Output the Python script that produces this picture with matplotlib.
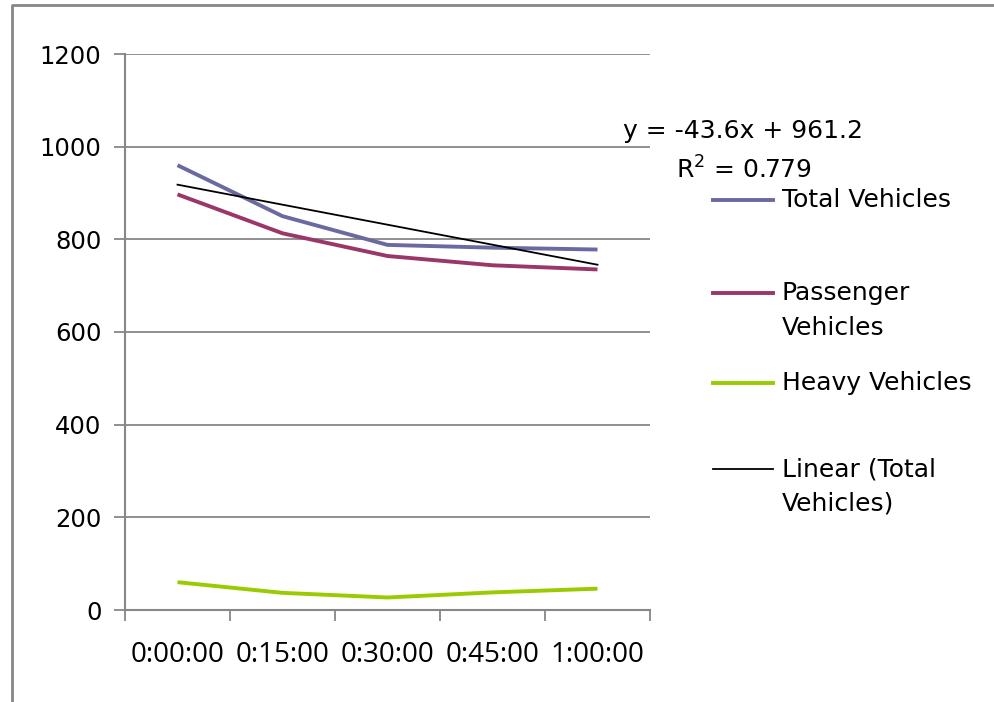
import numpy as np
import matplotlib
matplotlib.use("Agg")
import matplotlib.pyplot as plt
from matplotlib.lines import Line2D

# data
times = ["0:00:00", "0:15:00", "0:30:00", "0:45:00", "1:00:00"]
total = [960, 850, 788, 782, 778]
passenger = [897, 813, 764, 744, 735]
heavy = [60, 37, 27, 38, 46]

eq_text = "y = -43.6x + 961.2"
r2_text = "R$^2$ = 0.779"

c_total = "#6a6aa0"
c_pass = "#9b3768"
c_heavy = "#99cc00"
grid_c = "#878787"

plt.rcParams["font.family"] = ["DejaVu Sans"]
plt.rcParams["mathtext.default"] = "regular"

fig = plt.figure(figsize=(9.95, 7.02), dpi=100)
ax = fig.add_axes([125 / 995, 1 - 610 / 702, 525 / 995, 556 / 702])

x = np.arange(1, len(times) + 1)
l1, = ax.plot(x, total, color=c_total, lw=2.8, solid_capstyle="butt")
l2, = ax.plot(x, passenger, color=c_pass, lw=2.8, solid_capstyle="butt")
l3, = ax.plot(x, heavy, color=c_heavy, lw=2.8, solid_capstyle="butt")

# linear trend of total
k, b = np.polyfit(x, total, 1)
l4, = ax.plot(x, k * x + b, color="black", lw=1.3)

ax.set_xlim(0.5, len(times) + 0.5)
ax.set_ylim(0, 1200)
ax.set_yticks(range(0, 1201, 200))
ax.set_yticklabels([str(v) for v in range(0, 1201, 200)], fontsize=17.5)
ax.set_xticks(np.arange(0.5, len(times) + 1, 1))
ax.set_xticklabels([])
ax.set_xticks(x, minor=True)
ax.set_xticklabels(times, minor=True, fontsize=20, family="Open Sans")
ax.tick_params(axis="x", which="minor", length=0, pad=22)
ax.tick_params(axis="x", which="major", length=8, width=1.3, color=grid_c)
ax.tick_params(axis="y", length=8, width=1.3, color=grid_c, pad=9)

ax.grid(axis="y", color=grid_c, lw=1.3)
ax.set_axisbelow(True)
for s in ["top", "right"]:
    ax.spines[s].set_visible(False)
for s in ["left", "bottom"]:
    ax.spines[s].set_color(grid_c)
    ax.spines[s].set_linewidth(1.5)

# trendline label
fig.text(623 / 995, 1 - 131 / 702, eq_text, fontsize=18, va="center")
fig.text(676 / 995, 1 - 170 / 702, r2_text, fontsize=18, va="center")

# legend drawn by hand, handle aligned with first text line
entries = [(l1, ["Total Vehicles"], 200), (l2, ["Passenger", "Vehicles"], 293),
           (l3, ["Heavy Vehicles"], 383), (l4, ["Linear (Total", "Vehicles)"], 469)]
for line, rows, ypx in entries:
    yf = 1 - ypx / 702
    fig.add_artist(Line2D([713 / 995, 773 / 995], [yf, yf], color=line.get_color(),
                          lw=line.get_linewidth(), transform=fig.transFigure))
    for i, row in enumerate(rows):
        fig.text(782 / 995, 1 - (ypx + 35 * i) / 702, row, fontsize=18, va="center")

# chart area border
fig.add_artist(Line2D([12 / 995, 12 / 995, 1.0], [0.0, 1 - 5 / 702, 1 - 5 / 702],
                      color=grid_c, lw=2, transform=fig.transFigure))

fig.savefig("out.png", dpi=100)
